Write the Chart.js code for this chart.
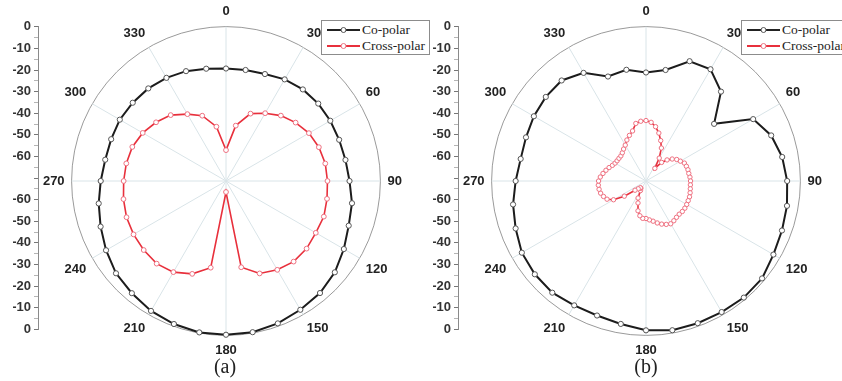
<!DOCTYPE html>
<html>
<head>
<meta charset="utf-8">
<script src="https://cdn.jsdelivr.net/npm/chart.js@4.4.0/dist/chart.umd.min.js"></script>
<style>
  html, body { margin: 0; padding: 0; background: #fff; width: 842px; height: 381px; overflow: hidden; }
  body { position: relative; }
  canvas { position: absolute; }
  .legend { position: absolute; border: 1px solid #8c8c8c; background: #fff; box-sizing: border-box;
            font-family: 'Liberation Serif', 'Times New Roman', serif; font-size: 13.5px; color: #222;
            padding: 1px 4px 0 5px; white-space: nowrap; }
  .legend .row { display: flex; align-items: center; height: 16px; }
  .legend svg { margin-right: 2px; flex: none; }
  .cap { position: absolute; width: 60px; text-align: center; font-family: 'Liberation Serif', 'Times New Roman', serif;
         font-size: 20px; line-height: 20px; color: #222; }
</style>
</head>
<body>
<canvas id="axisA" width="50" height="324"></canvas>
<canvas id="polarA" width="414" height="354"></canvas>
<canvas id="axisB" width="50" height="324"></canvas>
<canvas id="polarB" width="414" height="354"></canvas>

<div class="legend" style="left:321px;top:20px;width:109px;height:35px;">
  <div class="row"><svg width="33" height="10"><line x1="0" y1="5" x2="33" y2="5" stroke="#222" stroke-width="2"/><circle cx="16.5" cy="5" r="2.5" fill="#fff" stroke="#555" stroke-width="1"/></svg>Co-polar</div>
  <div class="row"><svg width="33" height="10"><line x1="0" y1="5" x2="33" y2="5" stroke="#e8303c" stroke-width="2"/><circle cx="16.5" cy="5" r="2.5" fill="#fff" stroke="#ee7080" stroke-width="1"/></svg>Cross-polar</div>
</div>
<div class="legend" style="left:741px;top:20px;width:109px;height:35px;">
  <div class="row"><svg width="33" height="10"><line x1="0" y1="5" x2="33" y2="5" stroke="#222" stroke-width="2"/><circle cx="16.5" cy="5" r="2.5" fill="#fff" stroke="#555" stroke-width="1"/></svg>Co-polar</div>
  <div class="row"><svg width="33" height="10"><line x1="0" y1="5" x2="33" y2="5" stroke="#e8303c" stroke-width="2"/><circle cx="16.5" cy="5" r="2.5" fill="#fff" stroke="#ee7080" stroke-width="1"/></svg>Cross-polar</div>
</div>
<div class="cap" style="left:195px;top:356px;">(a)</div>
<div class="cap" style="left:616px;top:356px;">(b)</div>

<script>
// ---------------- data ----------------
// Panel (a): angles every 10 degrees
const anglesA = [0,10,20,30,40,50,60,70,80,90,100,110,120,130,140,150,160,170,
                 180,190,200,210,220,230,240,250,260,270,280,290,300,310,320,330,340,350];
const coPolarA = [-19,-18.9,-18.4,-16.8,-15.8,-15.4,-15.4,-15.4,-15,-14,-12,-10.8,-8.3,-5.6,-3.7,-2.6,-1.3,-0.4,
                  -0.3,-0.3,-1,-2,-3.6,-4.9,-7.2,-9.5,-11.4,-13.2,-14.4,-14.6,-14.4,-14.8,-15.2,-16,-17,-18.3];
const crossPolarA = [-56,-44.5,-37.5,-34.5,-31.3,-28.8,-26.6,-25.2,-24.3,-24,-23.5,-22.8,-23,-22.3,-22.3,-23.5,-25.4,-30.3,
                     -65,-30.1,-25.2,-22.3,-21.1,-21.3,-21.6,-22,-22.8,-23.6,-24.1,-24.8,-26.4,-28.6,-31,-35,-38.5,-45];

// Panel (b): angles every 5 degrees (co-polar measured every 10 degrees)
const anglesB = [0,5,10,15,20,25,30,35,40,45,50,55,60,65,70,75,80,85,90,95,100,105,110,115,120,125,130,135,140,145,150,155,160,165,170,175,
                 180,185,190,195,200,205,210,215,220,225,230,235,240,245,250,255,260,265,270,275,280,285,290,295,300,305,310,315,320,325,330,335,340,345,350,355];
const coPolarB = [-20.8,null,-18.9,null,-12.2,null,-11.5,null,-17.1,null,-29.7,null,-13.9,null,-9.6,null,-7.3,null,
                  -6,null,-5.1,null,-4.4,null,-3.3,null,-1.3,null,-1,null,-1.4,null,-1.4,null,-1.3,null,
                  -2.3,null,-4.2,null,-5.1,null,-4.9,null,-3.9,null,-4.2,null,-5,null,-7.1,null,-8.8,null,
                  -10.9,null,-12.3,null,-12.1,null,-11.3,null,-10.7,null,-10.5,null,-13.4,null,-19.6,null,-18.8,null];
const crossPolarB = [-42.6,-43.3,-45,-47.5,-50.5,-53.5,-58,-63,-59,-56.5,-54.5,-53,-52,-50.8,-50.5,-50.3,-50.3,-50,
                     -49.8,-49.8,-49.6,-49.3,-49,-48.9,-48.7,-48.5,-48.5,-48.7,-48.5,-48,-47.6,-48.3,-49.2,-50.3,-51.5,-52.3,
                     -53,-53,-54,-56,-59.4,-61.5,-65,-66,-66,-65,-63.5,-58,-53,-50.5,-49.5,-48.7,-48.4,-48.3,
                     -48.5,-49.2,-50.2,-51.2,-52.2,-53.2,-53.8,-54,-54,-53.9,-53.3,-52.3,-51.2,-49.5,-48,-46.5,-43.5,-42.8];

// Left vertical axis: 0 at top, -70 (centre, unlabeled), back to 0 at bottom
const yAxisLabels = ['0','-10','-20','-30','-40','-50','-60','','-60','-50','-40','-30','-20','-10','0'];
const labelAngleStep = 30;   // angles that carry a label / spoke
const radialMin = -70, radialMax = 0;

// ---------------- styling ----------------
const RED = '#e8303c', RED_MK = '#ee7080', BLACK = '#1c1c1c', GREY_MK = '#555';
const labelFont = { family: "'Liberation Sans', Arial, sans-serif", size: 13, weight: 'bold' };

function makePolar(id, labels, co, cross, cx, cy, crossRadius) {
  const canvas = document.getElementById(id);
  const chart = new Chart(canvas, {
    type: 'radar',
    data: {
      labels: labels,
      datasets: [
        { label: 'Co-polar', data: co, borderColor: BLACK, borderWidth: 2, fill: false, spanGaps: true,
          pointRadius: 2.6, pointBorderWidth: 1, pointBackgroundColor: '#fff', pointBorderColor: GREY_MK },
        { label: 'Cross-polar', data: cross, borderColor: RED, borderWidth: 1.6, fill: false, spanGaps: true,
          pointRadius: crossRadius, pointBorderWidth: 1, pointBackgroundColor: '#fff', pointBorderColor: RED_MK }
      ]
    },
    options: {
      responsive: false, animation: false, devicePixelRatio: 1, maintainAspectRatio: false,
      layout: { padding: 0 },
      elements: { line: { tension: 0 } },
      plugins: { legend: { display: false }, tooltip: { enabled: false } },
      scales: {
        r: {
          min: radialMin, max: radialMax, startAngle: 0,
          ticks: { display: false, stepSize: 10 },
          grid: { circular: true, lineWidth: 1,
                  color: (ctx) => (ctx.tick && ctx.tick.value === radialMax) ? '#9a9a9a' : 'rgba(0,0,0,0)' },
          angleLines: { display: true, color: '#d9e4e8',
                        lineWidth: (ctx) => (labels[ctx.index] % labelAngleStep === 0) ? 1 : 0 },
          pointLabels: { display: true, padding: 7, font: labelFont, color: '#222',
                         callback: (lbl) => (lbl % labelAngleStep === 0) ? String(lbl) : '' }
        }
      }
    }
  });
  const r = chart.scales.r;
  canvas.style.left = Math.round(cx - r.xCenter) + 'px';
  canvas.style.top = Math.round(cy - r.yCenter) + 'px';
  return chart;
}

function makeAxis(id, axisX, topY) {
  const canvas = document.getElementById(id);
  const chart = new Chart(canvas, {
    type: 'scatter',
    data: { datasets: [] },
    options: {
      responsive: false, animation: false, devicePixelRatio: 1, maintainAspectRatio: false,
      layout: { padding: 0 },
      plugins: { legend: { display: false }, tooltip: { enabled: false } },
      scales: {
        x: { display: false, min: 0, max: 1 },
        y: {
          min: 0, max: (yAxisLabels.length - 1) * 10, reverse: true,
          afterBuildTicks: (scale) => {
            const t = [];
            yAxisLabels.forEach((_, i) => { t.push({ value: i * 10 }); if (i < yAxisLabels.length - 1) t.push({ value: i * 10 + 5 }); });
            scale.ticks = t;
          },
          ticks: { autoSkip: false, padding: 3, color: '#333', font: labelFont,
                   callback: (v) => (v % 10 === 0) ? yAxisLabels[v / 10] : '' },
          grid: { drawOnChartArea: false, drawTicks: true, tickLength: 4,
                  tickColor: (ctx) => (ctx.tick && ctx.tick.value % 10 === 0) ? '#777' : '#b5b5b5' },
          border: { display: true, color: '#8a8a8a', width: 1 }
        }
      }
    }
  });
  const a = chart.chartArea;
  canvas.style.left = Math.round(axisX - a.left) + 'px';
  canvas.style.top = Math.round(topY - a.top) + 'px';
  return chart;
}

makeAxis('axisA', 38, 27);
makeAxis('axisB', 458, 27);
makePolar('polarA', anglesA, coPolarA, crossPolarA, 226, 181, 2.4);
makePolar('polarB', anglesB, coPolarB, crossPolarB, 646, 181, 2.2);
</script>
</body>
</html>
